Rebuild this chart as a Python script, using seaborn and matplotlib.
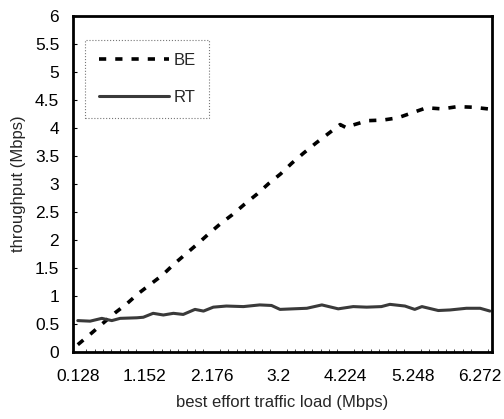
import numpy as np
import pandas as pd
import matplotlib
matplotlib.use("Agg")
import matplotlib.pyplot as plt
from matplotlib.ticker import MultipleLocator
import seaborn as sns

# BE throughput
be_load = [0.128, 0.342, 0.52, 0.70, 0.877, 1.05, 1.24, 1.42, 1.60, 1.78, 1.96,
           2.14, 2.31, 2.49, 2.68, 2.87, 3.05, 3.23, 3.40, 3.58, 3.77, 3.96,
           4.14, 4.24, 4.33, 4.56, 4.79, 5.02, 5.24, 5.46, 5.70, 5.93, 6.17, 6.40]
be_tput = [0.13, 0.34, 0.52, 0.70, 0.86, 1.04, 1.21, 1.37, 1.57, 1.75, 1.93,
           2.12, 2.29, 2.45, 2.64, 2.82, 3.01, 3.18, 3.37, 3.55, 3.73, 3.90,
           4.06, 4.00, 4.05, 4.13, 4.14, 4.18, 4.27, 4.36, 4.34, 4.38, 4.37, 4.34]

# RT throughput
rt_load = [0.128, 0.316, 0.495, 0.648, 0.775, 1.03, 1.13, 1.28, 1.436, 1.59,
           1.74, 1.92, 2.05, 2.20, 2.40, 2.66, 2.91, 3.09, 3.22, 3.42, 3.63,
           3.86, 4.11, 4.34, 4.545, 4.77, 4.90, 5.13, 5.28, 5.39, 5.64, 5.82,
           6.07, 6.28, 6.43]
rt_tput = [0.56, 0.55, 0.60, 0.56, 0.60, 0.61, 0.62, 0.69, 0.66, 0.69,
           0.67, 0.76, 0.73, 0.80, 0.82, 0.81, 0.84, 0.83, 0.76, 0.77, 0.78,
           0.84, 0.77, 0.81, 0.80, 0.81, 0.85, 0.82, 0.76, 0.81, 0.74, 0.75,
           0.78, 0.78, 0.73]

x_ticks = [0.128, 1.152, 2.176, 3.2, 4.224, 5.248, 6.272]
x_tick_labels = ["0.128", "1.152", "2.176", "3.2", "4.224", "5.248", "6.272"]
y_ticks = [0, 0.5, 1, 1.5, 2, 2.5, 3, 3.5, 4, 4.5, 5, 5.5, 6]
y_tick_labels = ["0", "0.5", "1", "1.5", "2", "2.5", "3", "3.5", "4", "4.5", "5", "5.5", "6"]

be = pd.DataFrame({"load": be_load, "tput": be_tput})
rt = pd.DataFrame({"load": rt_load, "tput": rt_tput})

sns.set_style("white")
plt.rcParams["font.family"] = ["Liberation Sans", "DejaVu Sans"]

fig = plt.figure(figsize=(5.04, 4.19), dpi=100)
ax = fig.add_axes([0.145, 0.160, 0.831, 0.802])

sns.lineplot(data=be, x="load", y="tput", ax=ax, color="black", lw=2.6,
             label="BE", estimator=None, sort=False)
ax.lines[-1].set_dashes([2.0, 2.5])
sns.lineplot(data=rt, x="load", y="tput", ax=ax, color="#3a3a3a", lw=2.2,
             label="RT", estimator=None, sort=False)

ax.set_xlim(0.056, 6.46)
ax.set_ylim(0, 6)
ax.set_xticks(x_ticks)
ax.set_xticklabels(x_tick_labels)
ax.set_yticks(y_ticks)
ax.set_yticklabels(y_tick_labels)
ax.xaxis.set_minor_locator(MultipleLocator(0.128))
ax.tick_params(axis="both", which="major", direction="in", length=3,
               width=0.8, labelsize=12.5, colors="black")
ax.tick_params(axis="x", which="major", pad=12)
ax.tick_params(axis="y", which="major", pad=10)
ax.tick_params(axis="x", which="minor", direction="in", length=2,
               width=0.6, bottom=True)
ax.tick_params(axis="x", which="major", bottom=False)
ax.tick_params(axis="y", which="major", left=True)

for s in ax.spines.values():
    s.set_color("black")
    s.set_linewidth(2)

ax.set_xlabel("best effort traffic load (Mbps)", fontsize=12, labelpad=8)
ax.set_ylabel("throughput (Mbps)", fontsize=12, labelpad=6)

leg = ax.legend(loc="upper left", bbox_to_anchor=(0.029, 0.929),
                borderaxespad=0, handlelength=4.2, handletextpad=0.3,
                labelspacing=1.3, fontsize=12, fancybox=False,
                borderpad=0.8, framealpha=1)
leg.get_frame().set_edgecolor("#777777")
leg.get_frame().set_linestyle(":")
leg.get_frame().set_linewidth(0.8)

fig.savefig("out.png", dpi=100)
